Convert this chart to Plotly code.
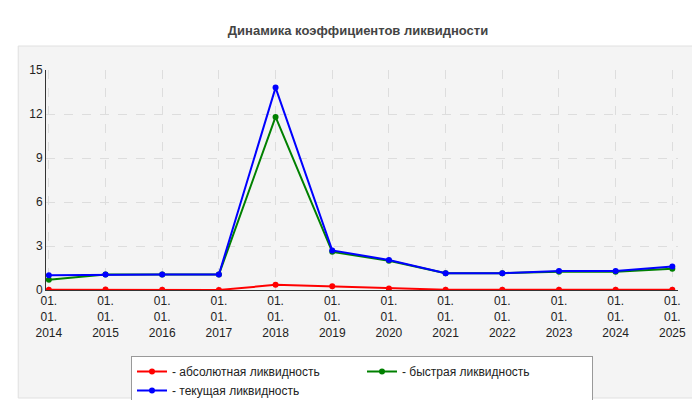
import plotly.graph_objects as go

years = ["2014", "2015", "2016", "2017", "2018", "2019", "2020", "2021", "2022", "2023", "2024", "2025"]
labels = ["01.<br>01.<br>" + y for y in years]
absolute = [0.02, 0.03, 0.02, 0.0, 0.35, 0.25, 0.1, 0.02, 0.02, 0.02, 0.02, 0.02]
quick = [0.7, 1.05, 1.05, 1.05, 11.8, 2.6, 2.0, 1.15, 1.15, 1.25, 1.25, 1.45]
current = [1.0, 1.05, 1.05, 1.05, 13.8, 2.7, 2.05, 1.15, 1.15, 1.3, 1.3, 1.6]

fig = go.Figure()
for name, vals, col in [("- абсолютная ликвидность", absolute, "red"),
                        ("- быстрая ликвидность", quick, "green"),
                        ("- текущая ликвидность", current, "blue")]:
    fig.add_trace(go.Scatter(x=labels, y=vals, name=name, mode="lines+markers",
                             line=dict(color=col, width=2), marker=dict(color=col, size=6)))

# light gray panel behind the plot
fig.add_shape(type="rect", xref="paper", yref="paper", x0=-0.044, x1=1.032, y0=-0.491, y1=1.109,
              fillcolor="#f4f4f4", line=dict(color="#e0e0e0", width=1), layer="below")

fig.update_layout(
    width=700, height=400,
    margin=dict(l=38, r=30, t=62, b=118, autoexpand=False),
    paper_bgcolor="white", plot_bgcolor="#fefefa",
    title=dict(text="<b>Динамика коэффициентов ликвидности</b>", x=0.5, y=0.955,
               font=dict(family="Liberation Sans", size=13, color="#444")),
    font=dict(family="Liberation Sans", size=12, color="#222"),
    showlegend=True,
    legend=dict(orientation="h", x=0.5, xanchor="center", y=-0.30, yanchor="top",
                bgcolor="white", bordercolor="#999", borderwidth=1,
                font=dict(size=12), itemwidth=30, entrywidth=185),
    xaxis=dict(showgrid=True, gridcolor="#dddddd", griddash="dash", tickfont=dict(size=12),
               showline=True, linecolor="#333", ticks="", range=[-0.05, 11.1], automargin=False),
    yaxis=dict(range=[0, 15], tickvals=[0, 3, 6, 9, 12, 15], showgrid=True, gridcolor="#dddddd",
               griddash="dash", zeroline=False, showline=True, linecolor="#333",
               tickfont=dict(size=12), automargin=False),
)
fig.write_html("out.html")
